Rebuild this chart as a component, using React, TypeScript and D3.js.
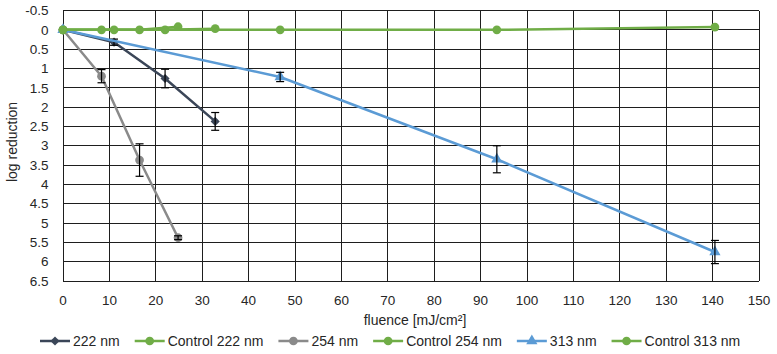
import React, { useEffect, useRef } from 'react';
import * as d3 from 'd3';

// fluence in mJ/cm², log reduction, standard deviation
const fluence222 = [0, 11, 22, 32.8];
const logRed222 = [0, 0.32, 1.26, 2.37];
const err222 = [0, 0.08, 0.24, 0.23];
const control222 = [0, 0, 0, -0.03];

const fluence254 = [0, 8.3, 16.5, 24.8];
const logRed254 = [0, 1.2, 3.37, 5.38];
const err254 = [0, 0.17, 0.42, 0.05];
const control254 = [0, 0, 0, -0.08];

const fluence313 = [0, 46.8, 93.5, 140.5];
const logRed313 = [0, 1.22, 3.35, 5.75];
const err313 = [0, 0.12, 0.35, 0.3];
const control313 = [0, 0, 0, -0.07];

const xTicks = d3.range(0, 151, 10);
const yTicks = d3.range(-0.5, 6.51, 0.5);

const FONT = '"Liberation Sans", Arial, sans-serif';
const TEXT = '#262626';

type Series = {
	name: string;
	xs: number[];
	ys: number[];
	errs?: number[];
	color: string;
	marker: 'diamond' | 'circle' | 'triangle';
};

const series: Series[] = [
	{ name: '222 nm', xs: fluence222, ys: logRed222, errs: err222, color: '#3b4658', marker: 'diamond' },
	{ name: 'Control 222 nm', xs: fluence222, ys: control222, color: '#70ad47', marker: 'circle' },
	{ name: '254 nm', xs: fluence254, ys: logRed254, errs: err254, color: '#8a8a8a', marker: 'circle' },
	{ name: 'Control 254 nm', xs: fluence254, ys: control254, color: '#70ad47', marker: 'circle' },
	{ name: '313 nm', xs: fluence313, ys: logRed313, errs: err313, color: '#5b9bd5', marker: 'triangle' },
	{ name: 'Control 313 nm', xs: fluence313, ys: control313, color: '#70ad47', marker: 'circle' },
];

// diamond is a square turned 45°, as in the office-style markers
const symbolFor = (m: Series['marker']) => {
	if (m === 'diamond') return { d: d3.symbol().type(d3.symbolSquare).size(42)(), rot: 45 };
	if (m === 'triangle') return { d: d3.symbol().type(d3.symbolTriangle).size(55)(), rot: 0 };
	return { d: d3.symbol().type(d3.symbolCircle).size(60)(), rot: 0 };
};

const drawChart = (svgEl: SVGSVGElement) => {
	const svg = d3.select(svgEl);
	svg.selectAll('*').remove();

	const left = 63, right = 759, top = 10.5, bottom = 281;
	const x = d3.scaleLinear().domain([0, 150]).range([left, right]);
	const y = d3.scaleLinear().domain([-0.5, 6.5]).range([top, bottom]);

	const grid = svg.append('g').attr('stroke', '#1e1e1e').attr('stroke-width', 1).attr('shape-rendering', 'crispEdges');
	grid.selectAll('line.h').data(yTicks).enter().append('line')
		.attr('x1', left).attr('x2', right)
		.attr('y1', (d) => y(d)).attr('y2', (d) => y(d));
	grid.selectAll('line.v').data(xTicks).enter().append('line')
		.attr('y1', top).attr('y2', bottom)
		.attr('x1', (d) => x(d)).attr('x2', (d) => x(d));

	svg.append('g').selectAll('text').data(yTicks).enter().append('text')
		.attr('x', 48.5).attr('y', (d) => y(d)).attr('dy', '0.35em')
		.attr('text-anchor', 'end').attr('font-family', FONT).attr('font-size', 13.5).attr('fill', TEXT)
		.text((d) => String(+d.toFixed(1)));
	svg.append('g').selectAll('text').data(xTicks).enter().append('text')
		.attr('x', (d) => x(d)).attr('y', 300).attr('dy', '0.35em')
		.attr('text-anchor', 'middle').attr('font-family', FONT).attr('font-size', 13.5).attr('fill', TEXT)
		.text((d) => String(d));

	svg.append('text').attr('x', 415).attr('y', 320).attr('dy', '0.35em')
		.attr('text-anchor', 'middle').attr('font-family', FONT).attr('font-size', 14).attr('fill', TEXT)
		.text('fluence [mJ/cm²]');
	svg.append('text').attr('transform', `translate(12,142) rotate(-90)`).attr('dy', '0.35em')
		.attr('text-anchor', 'middle').attr('font-family', FONT).attr('font-size', 14).attr('fill', TEXT)
		.text('log reduction');

	const line = d3.line<[number, number]>().x((d) => x(d[0])).y((d) => y(d[1]));

	series.forEach((s) => {
		const pts = s.xs.map((v, i) => [v, s.ys[i]] as [number, number]);
		const sym = symbolFor(s.marker);
		const g = svg.append('g');
		g.append('path').attr('d', line(pts)).attr('fill', 'none')
			.attr('stroke', s.color).attr('stroke-width', 2.5).attr('stroke-linejoin', 'round');
		g.selectAll('path.m').data(pts).enter().append('path')
			.attr('d', sym.d)
			.attr('transform', (d) => `translate(${ x(d[0]) },${ y(d[1]) }) rotate(${ sym.rot })`)
			.attr('fill', s.color);
		if (s.errs) {
			const errs = s.errs;
			const eb = g.append('g').attr('stroke', '#000').attr('stroke-width', 1.2);
			pts.forEach((d, i) => {
				if (!errs[i]) return;
				const cx = x(d[0]);
				const y0 = y(d[1] - errs[i]);
				const y1 = y(d[1] + errs[i]);
				eb.append('line').attr('x1', cx).attr('x2', cx).attr('y1', y0).attr('y2', y1);
				eb.append('line').attr('x1', cx - 4).attr('x2', cx + 4).attr('y1', y0).attr('y2', y0);
				eb.append('line').attr('x1', cx - 4).attr('x2', cx + 4).attr('y1', y1).attr('y2', y1);
			});
		}
	});

	// legend row under the axis title
	const legend = svg.append('g');
	const items = series.map((s) => {
		const sym = symbolFor(s.marker);
		const item = legend.append('g');
		item.append('line').attr('x1', 0).attr('x2', 30).attr('y1', 0).attr('y2', 0)
			.attr('stroke', s.color).attr('stroke-width', 2.5);
		item.append('path').attr('d', sym.d).attr('transform', `translate(15,0) rotate(${ sym.rot })`).attr('fill', s.color);
		const t = item.append('text').attr('x', 33).attr('dy', '0.35em')
			.attr('font-family', FONT).attr('font-size', 14).attr('fill', TEXT).text(s.name);
		return { item, w: 33 + (t.node() as SVGTextElement).getComputedTextLength() };
	});
	const gap = 15;
	let cursor = 40;
	items.forEach(({ item, w }) => {
		item.attr('transform', `translate(${ cursor },341)`);
		cursor += w + gap;
	});
};

const App = () => {
	const ref = useRef<SVGSVGElement>(null);

	useEffect(() => {
		if (ref.current) drawChart(ref.current);
	}, []);

	return (
		<svg ref={ ref } width={ 777 } height={ 354 }
			style={ { position: 'absolute', left: 0, top: 0, background: '#fff' } }/>
	);
};

export default App;
